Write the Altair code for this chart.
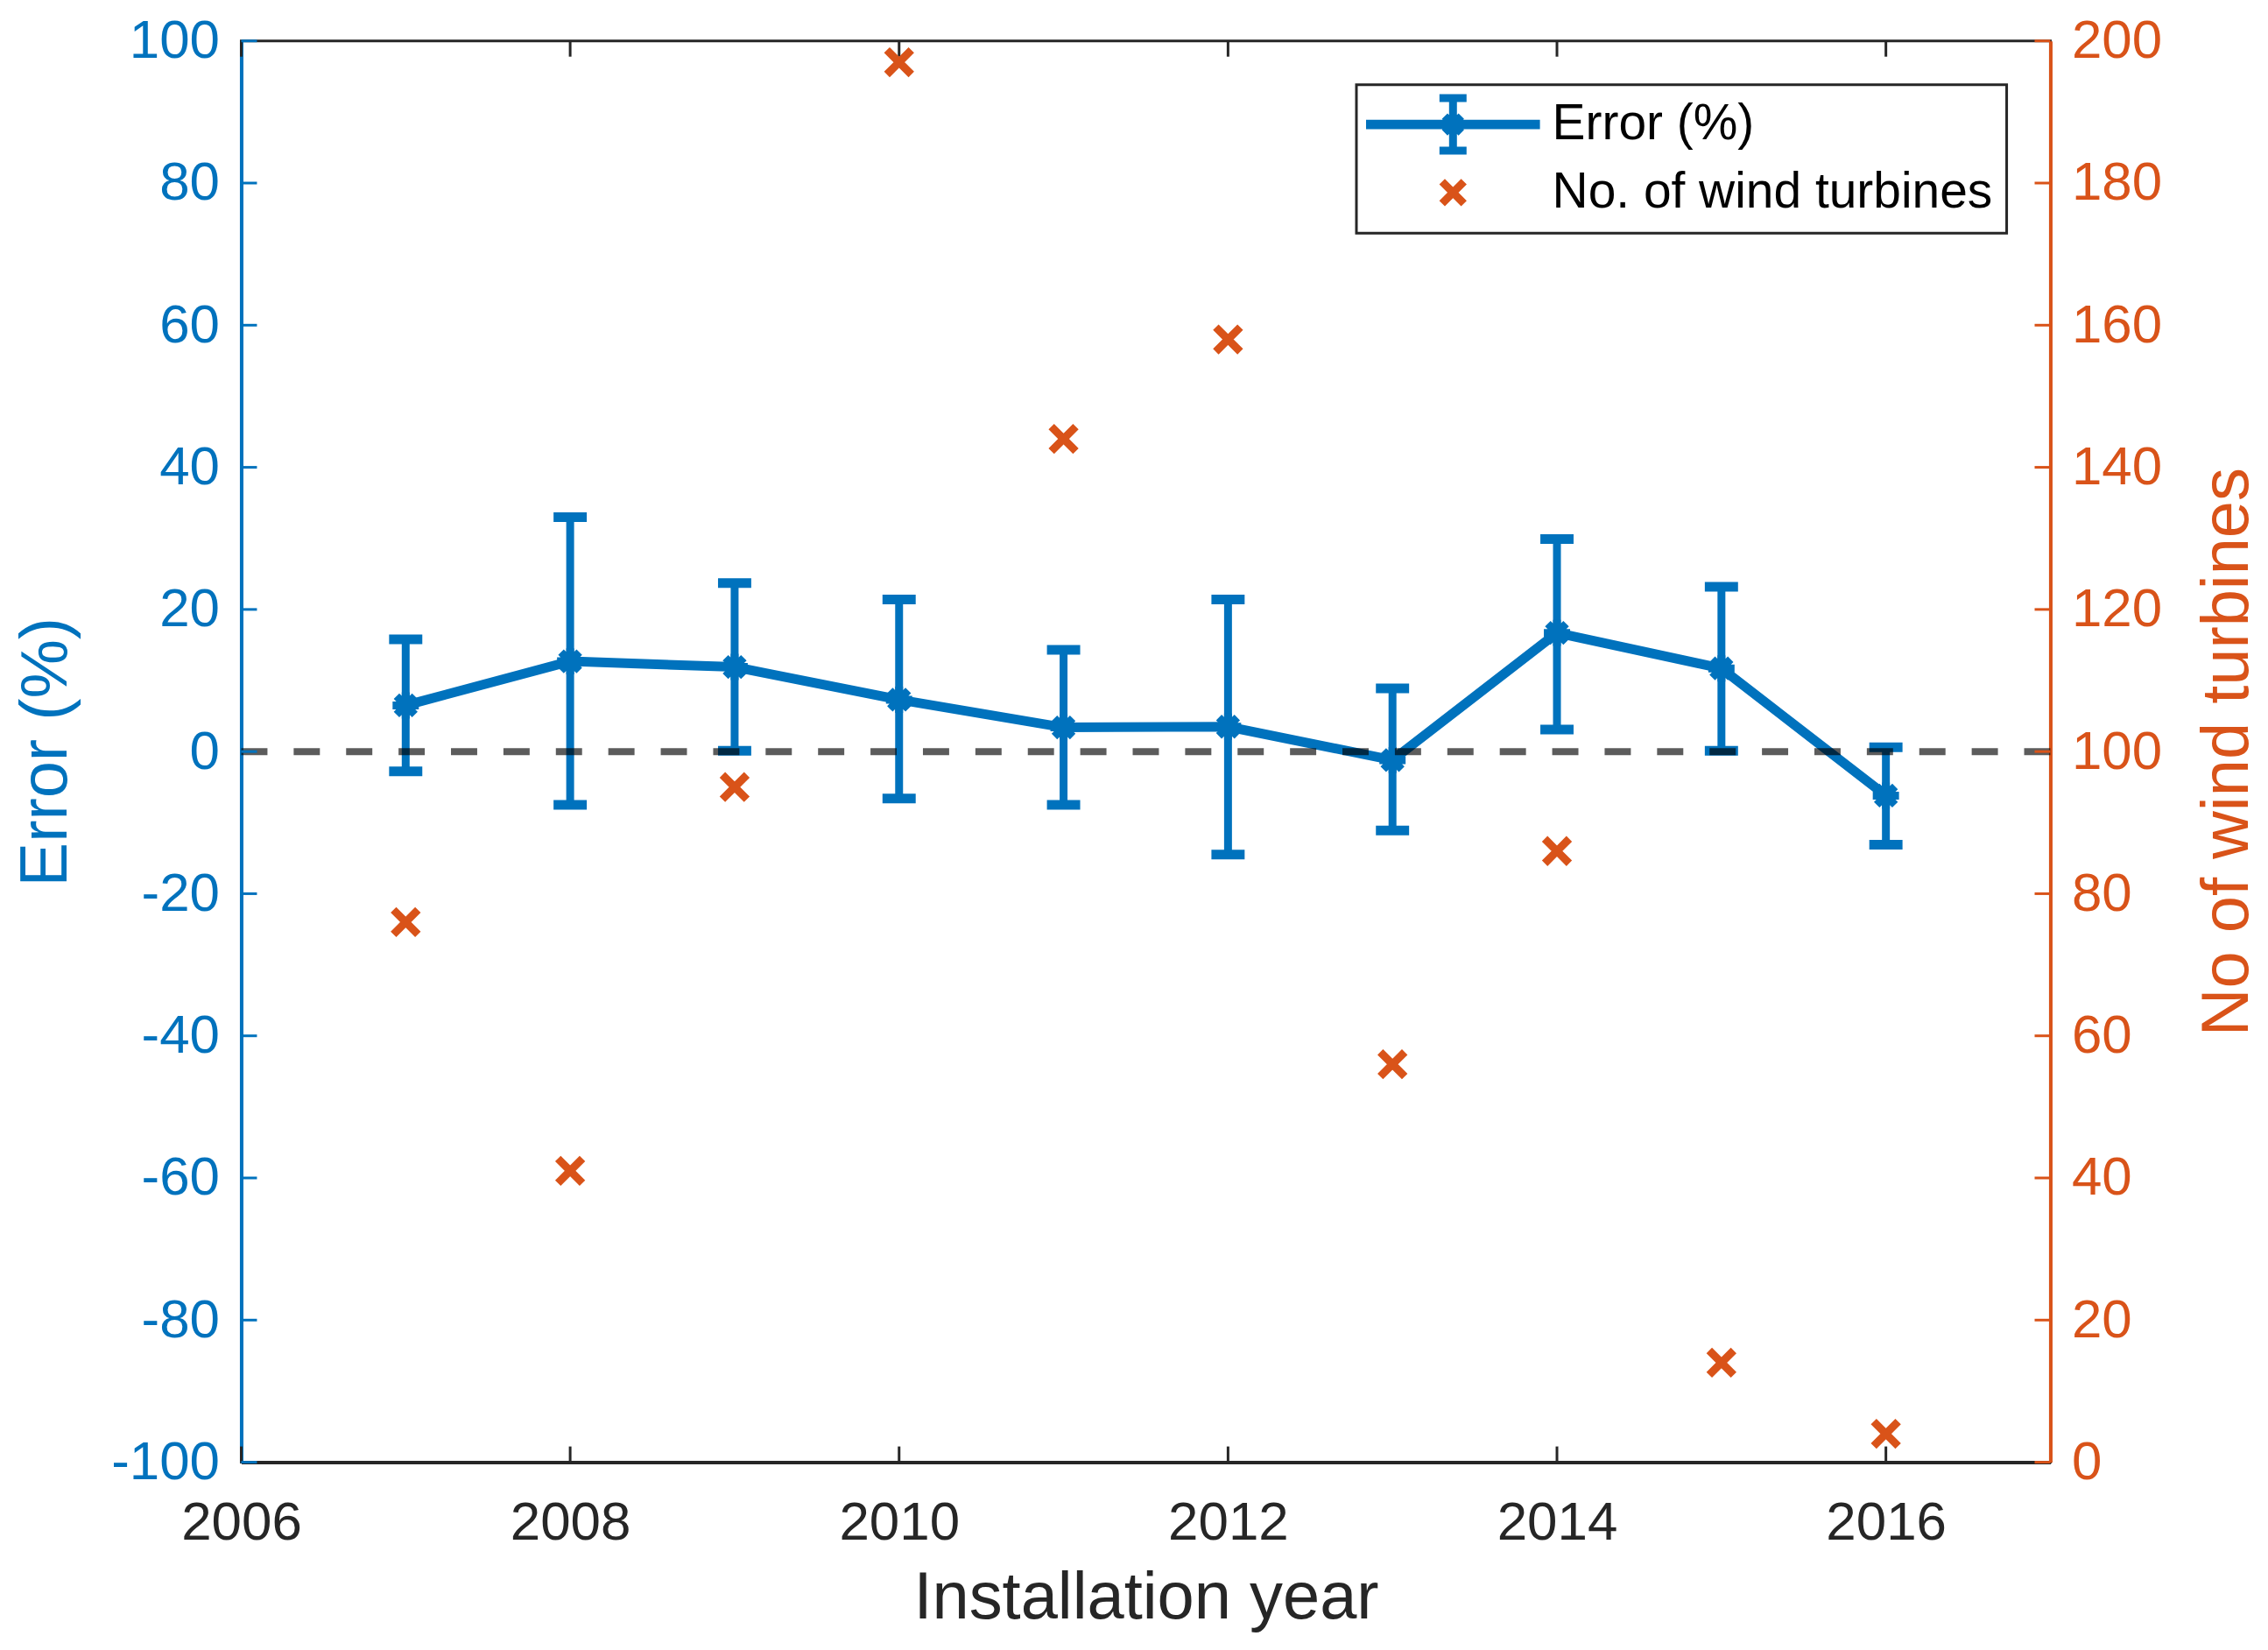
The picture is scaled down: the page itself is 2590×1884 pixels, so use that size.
import altair as alt
import pandas as pd

# ---------------- data ----------------
YEARS = [2007, 2008, 2009, 2010, 2011, 2012, 2013, 2014, 2015, 2016]
ERR_MEAN = [6.5, 12.7, 11.9, 7.3, 3.4, 3.5, -1.2, 16.7, 11.7, -6.2]
ERR_HI = [15.8, 33.0, 23.7, 21.4, 14.3, 21.4, 8.9, 29.9, 23.2, 0.6]
ERR_LO = [-2.8, -7.5, 0.1, -6.6, -7.5, -14.5, -11.1, 3.1, 0.1, -13.1]
TURBINES = [76, 41, 95, 197, 144, 158, 56, 86, 14, 4]

X_TICKS = [2006, 2008, 2010, 2012, 2014, 2016]
Y_LEFT_TICKS = [-100, -80, -60, -40, -20, 0, 20, 40, 60, 80, 100]
Y_RIGHT_TICKS = [0, 20, 40, 60, 80, 100, 120, 140, 160, 180, 200]
ZERO_LINE = [0]
LEGEND_LABELS = ["Error (%)", "No. of wind turbines"]

# ---------------- styles ----------------
W, H = 2070, 1626
TICK = 18
BLUE = "#0072BD"
ORANGE = "#D95319"
DARK = "#262626"
FONT = "Liberation Sans"

STAR = "M-1,0L1,0M0,-1L0,1M-0.7,-0.7L0.7,0.7M-0.7,0.7L0.7,-0.7"
CAP = "M-1,-0.29L1,-0.29L1,0.29L-1,0.29Z"
XMARK = "M-1,-1L1,1M-1,1L1,-1"
LEG_ERR = ("M-3.8,-0.036L3.8,-0.036L3.8,0.036L-3.8,0.036Z"
           "M0,-1.2L0,1.2"
           "M-0.62,-1.2L0.62,-1.2M-0.62,1.2L0.62,1.2"
           "M-0.54,0L0.54,0M0,-0.54L0,0.54M-0.38,-0.38L0.38,0.38M-0.38,0.38L0.38,-0.38")
LEG_X = "M-0.5,-0.5L0.5,0.5M-0.5,0.5L0.5,-0.5"

df = pd.DataFrame({"year": YEARS, "err": ERR_MEAN, "hi": ERR_HI,
                   "lo": ERR_LO, "n": TURBINES})

xscale = alt.Scale(domain=[2006, 2017], nice=False, zero=False)
ylscale = alt.Scale(domain=[-100, 100], nice=False, zero=False)
yrscale = alt.Scale(domain=[0, 200], nice=False, zero=False)

x_axis = alt.Axis(values=X_TICKS, labelExpr="toString(datum.value)",
                  title="Installation year", labelFontSize=62, labelColor=DARK,
                  titleFontSize=76, titleColor=DARK, domainColor=DARK,
                  domainWidth=4, ticks=False, tickSize=0, labelPadding=39,
                  titlePadding=18, labelFlush=False, grid=False)
yl_axis = alt.Axis(values=Y_LEFT_TICKS, labelExpr="toString(datum.value)",
                   orient="left", title="Error (%)", labelFontSize=62,
                   labelColor=BLUE, titleFontSize=76, titleColor=BLUE,
                   domainColor=BLUE, domainWidth=4, ticks=False, tickSize=0,
                   labelPadding=25, titlePadding=35, labelFlush=False, grid=False)
yr_axis = alt.Axis(values=Y_RIGHT_TICKS, labelExpr="toString(datum.value)",
                   orient="right", title="No of wind turbines",
                   labelFontSize=62, labelColor=ORANGE, titleFontSize=76,
                   titleColor=ORANGE, titleAngle=270, titleBaseline="top",
                   domainColor=ORANGE, domainWidth=4, ticks=False, tickSize=0,
                   labelPadding=24, titlePadding=38, labelFlush=False, grid=False)


def X(field):
    return alt.X(field, type="quantitative", scale=xscale, axis=x_axis)


def YL(field):
    return alt.Y(field, type="quantitative", scale=ylscale, axis=yl_axis)


def YR(field):
    return alt.Y(field, type="quantitative", scale=yrscale, axis=yr_axis)


base = alt.Chart(df)

line = base.mark_line(color=BLUE, strokeWidth=11).encode(x=X("year"), y=YL("err"))

stems = base.mark_rule(color=BLUE, strokeWidth=9).encode(
    x=X("year"), y=YL("lo"), y2="hi:Q")

caps = base.transform_fold(["hi", "lo"], as_=["k", "v"]).mark_point(
    shape=CAP, filled=True, size=1444, color=BLUE, opacity=1, strokeWidth=0
).encode(x=X("year"), y=YL("v"))

stars = base.mark_point(shape=STAR, filled=False, size=900, strokeWidth=9,
                        color=BLUE, opacity=1).encode(x=X("year"), y=YL("err"))

zero = alt.Chart(pd.DataFrame({"z": ZERO_LINE})).mark_rule(
    color="black", opacity=0.64, strokeWidth=8, strokeDash=[30, 30]
).encode(y=YL("z"))

xt = pd.DataFrame({"v": X_TICKS})
xt_bottom = alt.Chart(xt).mark_rule(color=DARK, strokeWidth=3).encode(
    x=X("v"), y=alt.value(H), y2=alt.value(H - TICK))
xt_top = alt.Chart(xt).mark_rule(color=DARK, strokeWidth=3).encode(
    x=X("v"), y=alt.value(0), y2=alt.value(TICK))

yl_ticks = alt.Chart(pd.DataFrame({"v": Y_LEFT_TICKS})).mark_rule(
    color=BLUE, strokeWidth=3).encode(
    y=YL("v"), x=alt.value(0), x2=alt.value(TICK))

yr_ticks = alt.Chart(pd.DataFrame({"v": Y_RIGHT_TICKS})).mark_rule(
    color=ORANGE, strokeWidth=3).encode(
    y=YR("v"), x=alt.value(W - TICK), x2=alt.value(W))

turbines = base.mark_point(shape=XMARK, filled=False, size=784, strokeWidth=9,
                           color=ORANGE, opacity=1).encode(x=X("year"), y=YR("n"))

leg = alt.Legend(title=None, orient="top-right", offset=50, padding=16,
                 strokeColor=DARK, fillColor="white", symbolSize=2500,
                 symbolStrokeWidth=9, symbolOffset=65, labelOffset=84,
                 labelFont=FONT, labelFontSize=57, labelColor="black",
                 rowPadding=-8, labelLimit=2000)

legend_layer = alt.Chart(pd.DataFrame({"series": LEGEND_LABELS})).transform_filter(
    "false").mark_point(filled=False, strokeWidth=9, opacity=1, size=2500).encode(
    color=alt.Color("series:N", scale=alt.Scale(domain=LEGEND_LABELS,
                                                range=[BLUE, ORANGE]), legend=leg),
    shape=alt.Shape("series:N", scale=alt.Scale(domain=LEGEND_LABELS,
                                                range=[LEG_ERR, LEG_X]), legend=leg))

left = alt.layer(line, stems, caps, stars, zero, xt_bottom, xt_top, yl_ticks,
                 legend_layer)
right = alt.layer(turbines, yr_ticks)

chart = alt.layer(left, right).resolve_scale(y="independent").properties(
    width=W, height=H,
    padding={"left": 6, "top": 6, "right": 0, "bottom": 0},
    background="white"
).configure_axis(
    labelFont=FONT, titleFont=FONT, titleFontWeight="normal"
).configure_view(
    stroke=DARK, strokeWidth=3
).configure_legend(
    strokeWidth=3
)

chart.save("out.html", embed_options={"renderer": "svg", "actions": False})
